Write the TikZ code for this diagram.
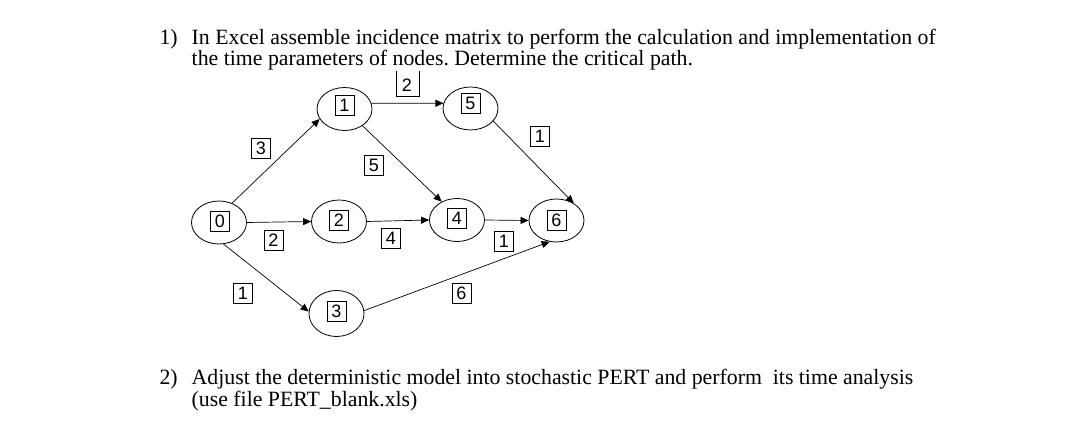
\documentclass[tikz,border=0pt]{standalone}
\usepackage{fontspec}
\setmainfont{Liberation Serif}
\newfontfamily\numfont{Liberation Sans}
\usetikzlibrary{shapes.geometric,arrows.meta}
\frenchspacing
\begin{document}
\begin{tikzpicture}[x=1pt,y=-1pt,
  pnode/.style={ellipse,draw,line width=0.8pt,minimum width=55pt,minimum height=43pt,inner sep=0pt},
  nbox/.style={draw,line width=0.7pt,font=\fontsize{18}{18}\numfont,minimum width=19pt,minimum height=20pt,inner sep=0pt},
  arr/.style={-{Triangle[length=8pt,width=7pt]},line width=0.7pt},
  txt/.style={anchor=base west,inner sep=0pt,font=\fontsize{21.8}{19}\selectfont}]
\useasboundingbox[fill=white] (0,0) rectangle (1080,443);
% texts
\node[txt] (t1a) at (159.3,44.3) {1)};
\node[txt] (t1b) at (191.5,44.3) {\parbox[t]{800pt}{\fontsize{21.8}{19}\selectfont In Excel assemble incidence matrix to perform the calculation and implementation of\\the time parameters of nodes. Determine the critical path.}};
\node[txt] (t2a) at (159.3,385) {2)};
\node[txt] (t2b) at (191.5,385) {\parbox[t]{800pt}{\fontsize{21.8}{19}\selectfont Adjust the deterministic model into stochastic PERT and perform\ \ its time analysis\\(use file PERT\_blank.xls)}};
% event nodes
\node[pnode] (n0) at (219,222.5) {};
\node[pnode] (n1) at (344.5,109) {};
\node[pnode] (n5) at (470.5,108.5) {};
\node[pnode] (n2) at (339,221.5) {};
\node[pnode] (n4) at (457,220) {};
\node[pnode] (n6) at (556.5,220.5) {};
\node[pnode,minimum height=46pt] (n3) at (336.5,313.5) {};
\node[nbox] (b0) at (220,221.5) {0};
\node[nbox] (b1) at (344.5,105) {1};
\node[nbox] (b5) at (470.5,103.5) {5};
\node[nbox] (b2) at (339,220) {2};
\node[nbox] (b4) at (457,218.5) {4};
\node[nbox] (b6) at (556.5,220) {6};
\node[nbox] (b3) at (336.5,311.7) {3};
% edges
\draw[arr] (n0.56) -- (n1.202);
\draw[arr] (n1.12) -- (n5.169);
\draw[arr] (n1.317) -- (n4.130);
\draw[arr] (n5.331) -- (n6.45);
\draw[arr] (n0.east) -- (n2.west);
\draw[arr] (n2.east) -- (n4.west);
\draw[arr] (n4.east) -- (n6.west);
\draw[arr] (n0.282) -- (n3.176);
\draw[arr] (n3.6) -- (n6.252);
% edge labels
\node[nbox] (l01) at (261,148) {3};
\node[nbox] (l14) at (374,165) {5};
\node[nbox,draw=none] (l15) at (407,85) {2};
\draw[line width=0.7pt] (396,71.5) -- (396,96.7) -- (419,96.7) -- (419,71.5);
\node[nbox] (l56) at (540,136) {1};
\node[nbox] (l02) at (273.5,240) {2};
\node[nbox] (l24) at (391,238.5) {4};
\node[nbox] (l46) at (504,241.5) {1};
\node[nbox] (l03) at (243,293.5) {1};
\node[nbox] (l36) at (461.5,293.5) {6};
\end{tikzpicture}
\end{document}
